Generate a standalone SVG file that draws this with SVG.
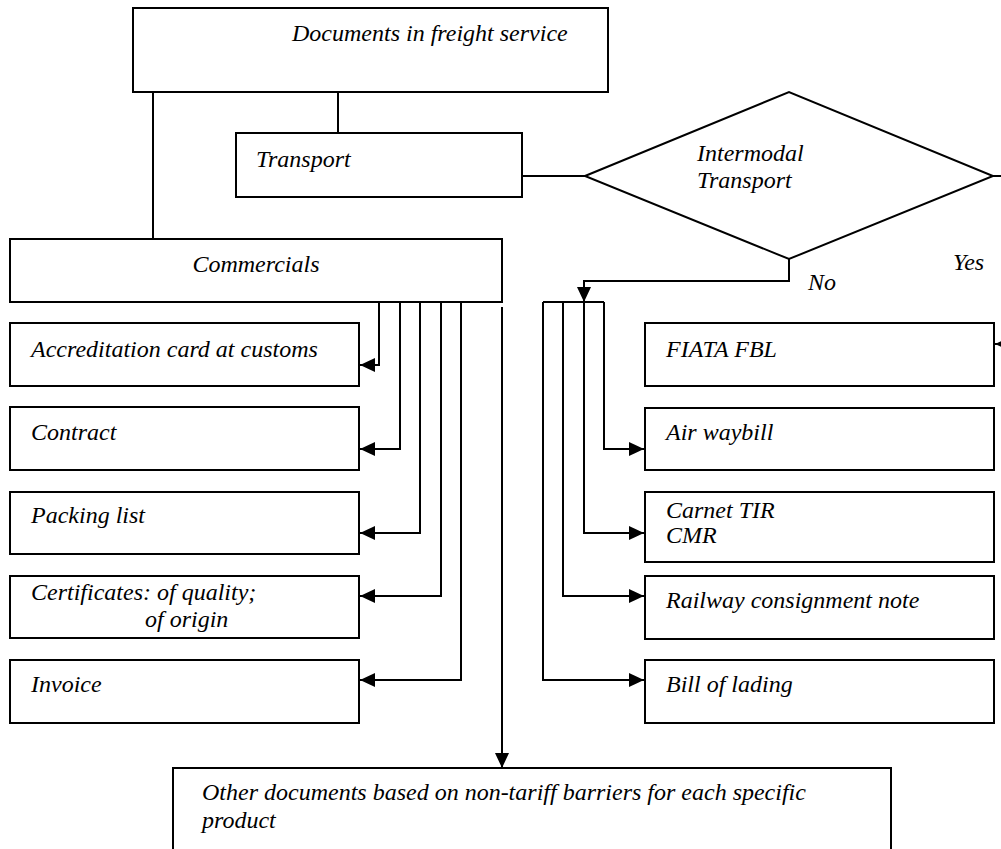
<svg xmlns="http://www.w3.org/2000/svg" width="1001" height="849" viewBox="0 0 1001 849">
<style>
.box{fill:#fff;stroke:#000;stroke-width:2}
.t{font-family:"Liberation Serif","Times New Roman",serif;font-style:italic;font-size:24px;fill:#000}
.c{fill:none;stroke:#000;stroke-width:2}
</style>
<defs>
<marker id="ah" markerUnits="userSpaceOnUse" markerWidth="15" markerHeight="14" refX="15" refY="7" orient="auto">
<path d="M0,0 L15,7 L0,14 z" fill="#000"/>
</marker>
</defs>
<rect width="1001" height="849" fill="#fff"/>
<g id="connectors">
<path class="c" d="M153,92 V239"/>
<path class="c" d="M338,92 V133"/>
<path class="c" d="M522,176 H585"/>
<path class="c" d="M379,302 V365 H360" marker-end="url(#ah)"/>
<path class="c" d="M400,302 V449 H360" marker-end="url(#ah)"/>
<path class="c" d="M420,302 V533 H360" marker-end="url(#ah)"/>
<path class="c" d="M441,302 V596 H360" marker-end="url(#ah)"/>
<path class="c" d="M461,302 V680 H360" marker-end="url(#ah)"/>
<path class="c" d="M502,307 V768" marker-end="url(#ah)"/>
<path class="c" d="M543,302 H604"/>
<path class="c" d="M604,302 V449 H644" marker-end="url(#ah)"/>
<path class="c" d="M584,302 V533 H644" marker-end="url(#ah)"/>
<path class="c" d="M563,302 V596 H644" marker-end="url(#ah)"/>
<path class="c" d="M543,302 V680 H644" marker-end="url(#ah)"/>
<path class="c" d="M789,259 V281 H584 V302" marker-end="url(#ah)"/>
<path class="c" d="M993,176 H1012 V344 H995" marker-end="url(#ah)"/>
</g>
<g id="documents"><rect class="box" x="133" y="8" width="475" height="84"/><text class="t" x="292" y="41">Documents in freight service</text></g>
<g id="transport"><rect class="box" x="236" y="133" width="286" height="64"/><text class="t" x="256" y="167">Transport</text></g>
<g id="intermodal"><polygon class="box" points="585,176 789,92 993,176 789,259"/><text class="t" x="697" y="161">Intermodal</text><text class="t" x="697" y="188">Transport</text></g>
<g id="labels"><text class="t" x="808" y="290">No</text><text class="t" x="953" y="270">Yes</text></g>
<g id="commercials"><rect class="box" x="10" y="239" width="492" height="63"/><text class="t" x="256" y="272" text-anchor="middle">Commercials</text></g>
<g id="accreditation"><rect class="box" x="10" y="323" width="349" height="63"/><text class="t" x="31" y="357">Accreditation card at customs</text></g>
<g id="contract"><rect class="box" x="10" y="407" width="349" height="63"/><text class="t" x="31" y="440">Contract</text></g>
<g id="packing"><rect class="box" x="10" y="492" width="349" height="62"/><text class="t" x="31" y="523">Packing list</text></g>
<g id="certificates"><rect class="box" x="10" y="576" width="349" height="62"/><text class="t" x="31" y="600">Certificates: of quality;</text><text class="t" x="145" y="627">of origin</text></g>
<g id="invoice"><rect class="box" x="10" y="660" width="349" height="63"/><text class="t" x="31" y="692">Invoice</text></g>
<g id="fiata"><rect class="box" x="645" y="323" width="349" height="63"/><text class="t" x="666" y="357">FIATA FBL</text></g>
<g id="airwaybill"><rect class="box" x="645" y="408" width="349" height="62"/><text class="t" x="666" y="440">Air waybill</text></g>
<g id="carnet"><rect class="box" x="645" y="492" width="349" height="70"/><text class="t" x="666" y="518">Carnet TIR</text><text class="t" x="666" y="543">CMR</text></g>
<g id="railway"><rect class="box" x="645" y="576" width="349" height="63"/><text class="t" x="666" y="608">Railway consignment note</text></g>
<g id="lading"><rect class="box" x="645" y="660" width="349" height="63"/><text class="t" x="666" y="692">Bill of lading</text></g>
<g id="other"><rect class="box" x="173" y="768" width="718" height="90"/><text class="t" x="202" y="800">Other documents based on non-tariff barriers for each specific</text><text class="t" x="202" y="828">product</text></g>
</svg>
